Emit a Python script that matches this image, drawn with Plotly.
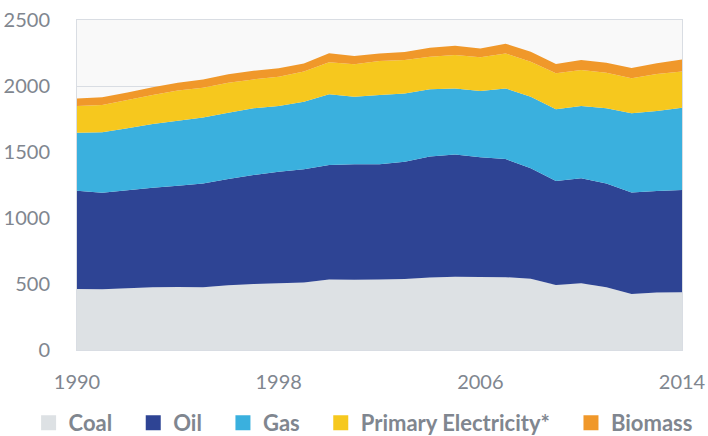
import plotly.graph_objects as go

years = list(range(1990, 2015))
coal = [462, 460, 468, 475, 478, 475, 490, 500, 505, 512, 535, 532, 535, 538, 550,
        555, 553, 552, 540, 492, 505, 475, 424, 435, 438]
oil = [745, 732, 742, 755, 767, 787, 805, 825, 846, 857, 866, 875, 872, 889, 915,
       927, 907, 895, 836, 788, 796, 787, 770, 769, 774]
gas = [439, 458, 469, 482, 492, 500, 503, 506, 497, 512, 536, 512, 525, 517, 510,
       500, 502, 535, 543, 543, 547, 569, 599, 607, 624]
elec = [202, 206, 215, 220, 228, 225, 227, 219, 223, 228, 242, 246, 257, 253, 247,
        253, 255, 265, 265, 273, 273, 270, 265, 280, 273]
biomass = [58, 58, 57, 58, 60, 62, 64, 65, 64, 62, 70, 62, 58, 60, 68,
           70, 68, 74, 76, 70, 76, 76, 78, 82, 92]

names = ["Coal", "Oil", "Gas", "Primary Electricity*", "Biomass"]
colors = ["#dde1e4", "#2e4494", "#3ab0de", "#f6c81e", "#f0982a"]
series = [coal, oil, gas, elec, biomass]
x_ticks = [1990, 1998, 2006, 2014]
y_ticks = [0, 500, 1000, 1500, 2000, 2500]

fig = go.Figure()
for name, col, vals in zip(names, colors, series):
    fig.add_trace(go.Scatter(x=years, y=vals, name=name, stackgroup="one",
                             mode="none", fillcolor=col, line=dict(width=0),
                             showlegend=False))
pad = "\u00a0" * 3
for i, (name, col) in enumerate(zip(names, colors)):
    label = name + (pad if i < len(names) - 1 else "")
    fig.add_trace(go.Scatter(x=[None], y=[None], name=label, mode="markers",
                             marker=dict(symbol="square", size=15, color=col)))

tick_font = dict(family="Lato", size=20, color="#80868f")
fig.update_layout(
    width=708, height=436,
    margin=dict(l=77, r=26, t=20, b=86, autoexpand=False),
    paper_bgcolor="white", plot_bgcolor="#f9f9f9",
    showlegend=True,
    legend=dict(orientation="h", x=-0.080, xanchor="left", y=-0.221, yanchor="middle",
                font=dict(family="Lato", size=22, color="#80868f", weight="bold"),
                itemwidth=30, traceorder="normal", bgcolor="rgba(0,0,0,0)"),
    xaxis=dict(range=[1990, 2014], tickvals=x_ticks, ticktext=[str(v) for v in x_ticks],
               tickfont=tick_font, showgrid=False, zeroline=False,
               showline=True, mirror=True, linecolor="#d9dde3", linewidth=1,
               ticks="", ticklabelstandoff=14),
    yaxis=dict(range=[0, 2500], tickvals=y_ticks, tickfont=tick_font,
               showgrid=True, gridcolor="#d9dde3", zeroline=False,
               showline=True, mirror=True, linecolor="#d9dde3", linewidth=1,
               ticks="", ticklabelstandoff=22),
)
fig.write_html("out.html")
